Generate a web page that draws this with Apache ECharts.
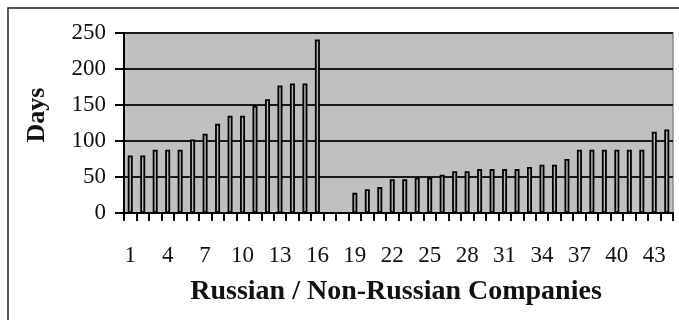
<!DOCTYPE html>
<html>
<head>
<meta charset="utf-8">
<script src="https://cdn.jsdelivr.net/npm/echarts@6/dist/echarts.min.js"></script>
<style>
html,body{margin:0;padding:0;background:#fff;}
#chart{width:679px;height:320px;}
</style>
</head>
<body>
<div id="chart"></div>
<script>
// Data
var categories = ['1','2','3','4','5','6','7','8','9','10','11','12','13','14','15','16','17','18','19','20','21','22','23','24','25','26','27','28','29','30','31','32','33','34','35','36','37','38','39','40','41','42','43','44'];
var days = [80,80,88,88,88,102,110,124,135,135,149,158,177,180,180,241,null,null,28,33,36,47,47,49,49,53,58,58,61,61,61,61,64,67,67,75,88,88,88,88,88,88,113,116];
var yTicks = {min:0, max:250, interval:50};
var xTitle = 'Russian / Non-Russian Companies';
var yTitle = 'Days';

var chart = echarts.init(document.getElementById('chart'));
var serif = "'Liberation Serif', 'DejaVu Serif', serif";
chart.setOption({
  animation: false,
  backgroundColor: '#fff',
  grid: {left:124, right:6, top:33, bottom:107, show:true, backgroundColor:'#c0c0c0', borderColor:'#888', borderWidth:1.5},
  xAxis: {
    type:'category', data:categories, boundaryGap:true,
    axisLine:{show:true, lineStyle:{color:'#000', width:2}},
    axisTick:{show:true, interval:0, length:8, lineStyle:{color:'#000', width:2}},
    axisLabel:{interval:2, color:'#111', fontFamily:serif, fontSize:23, margin:31},
    splitLine:{show:false}
  },
  yAxis: {
    type:'value', min:yTicks.min, max:yTicks.max, interval:yTicks.interval,
    axisLine:{show:true, lineStyle:{color:'#000', width:2}},
    axisTick:{show:true, length:9, lineStyle:{color:'#000', width:2}},
    axisLabel:{color:'#111', fontFamily:serif, fontSize:23, margin:18},
    splitLine:{show:true, lineStyle:{color:'#1a1a1a', width:2}}
  },
  series: [{
    type:'bar', data:days, barWidth:5,
    itemStyle:{color:'#b8b8b8', borderColor:'#000', borderWidth:1.8}
  }],
  graphic: [
    {type:'rect', shape:{x:8, y:8, width:700, height:340}, style:{fill:'none', stroke:'#222', lineWidth:1.5}, silent:true},
    {type:'text', x:37, y:115, rotation:Math.PI/2, style:{text:yTitle, font:"bold 26px 'Liberation Serif', serif", fill:'#111', align:'center', verticalAlign:'middle'}},
    {type:'text', x:396, y:292, style:{text:xTitle, font:"bold 28px 'Liberation Serif', serif", fill:'#111', align:'center', verticalAlign:'middle'}}
  ]
});
</script>
</body>
</html>
